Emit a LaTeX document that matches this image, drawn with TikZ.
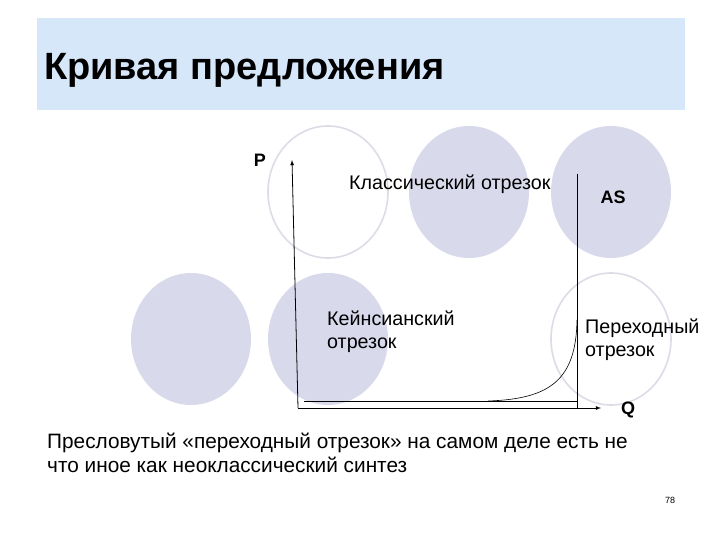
\documentclass[tikz,border=0pt]{standalone}
\usepackage{fontspec}
\setmainfont{Liberation Sans}
\begin{document}
\begin{tikzpicture}[x=1pt,y=-1pt,
  fc/.style={fill=circ,draw=none},
  oc/.style={draw=circo,line width=1.6pt},
  lbl/.style={font=\fontsize{19.7}{23}\selectfont,inner sep=0pt},
  big/.style={font=\bfseries\fontsize{18}{20}\selectfont,inner sep=0pt},
  ax/.style={line width=0.8pt,-latex}]
\definecolor{circ}{HTML}{D9D9EC}
\definecolor{circo}{HTML}{DCDCE6}
\definecolor{hdr}{HTML}{D6E7FA}
\useasboundingbox (0,0) rectangle (720,540);
\fill[white] (0,0) rectangle (720,540);
\fill[hdr] (37,18) rectangle (685,110);
\node[anchor=west,font=\bfseries\fontsize{38}{40}\selectfont,inner sep=0pt] (title) at (44,70) {Кривая предложения};
% circles
\fill[circ] (469,192) ellipse [x radius=60,y radius=66];
\fill[circ] (611,192) ellipse [x radius=60,y radius=66];
\fill[circ] (191,339) ellipse [x radius=60,y radius=66];
\fill[circ] (328,339) ellipse [x radius=60,y radius=66];
\draw[oc] (328,192) ellipse [x radius=60,y radius=66];
\draw[oc] (611,339) ellipse [x radius=60,y radius=66];
% axes
\coordinate (o) at (298,408);
\coordinate (ptop) at (292,160);
\coordinate (qend) at (601,408);
\draw[ax] (o) -- (ptop);
\draw[ax] (o) -- (qend);
\coordinate (vtop) at (577,174);
\coordinate (vbot) at (577,408);
\draw[line width=0.6pt] (vtop) -- (vbot);
\coordinate (hl) at (304,401);
\coordinate (hr) at (577,401);
\draw[line width=0.6pt] (hl) -- (hr);
\coordinate (cs) at (488,401);
\coordinate (ce) at (577,320);
\draw[line width=0.6pt] (cs) .. controls (550,399) and (576,380) .. (ce);
% labels
\node[big] (P) at (260,160) {P};
\node[big] (Q) at (628,410) {Q};
\node[lbl,anchor=west] (cl) at (349,184) {Классический отрезок};
\node[big] (as) at (613,197) {AS};
\node[lbl,anchor=north west,align=left] (ke) at (327,311) {Кейнсианский\\отрезок};
\node[lbl,anchor=north west,align=left] (pe) at (585,319) {Переходный\\отрезок};
\node[anchor=north west,align=left,inner sep=0pt,font=\fontsize{20.8}{24}\selectfont] (txt) at (47,433) {Пресловутый «переходный отрезок» на самом деле есть не\\что иное как неоклассический синтез};
\node[inner sep=0pt,font=\fontsize{9}{10}\selectfont] (pg) at (670,500) {78};
\end{tikzpicture}
\end{document}
